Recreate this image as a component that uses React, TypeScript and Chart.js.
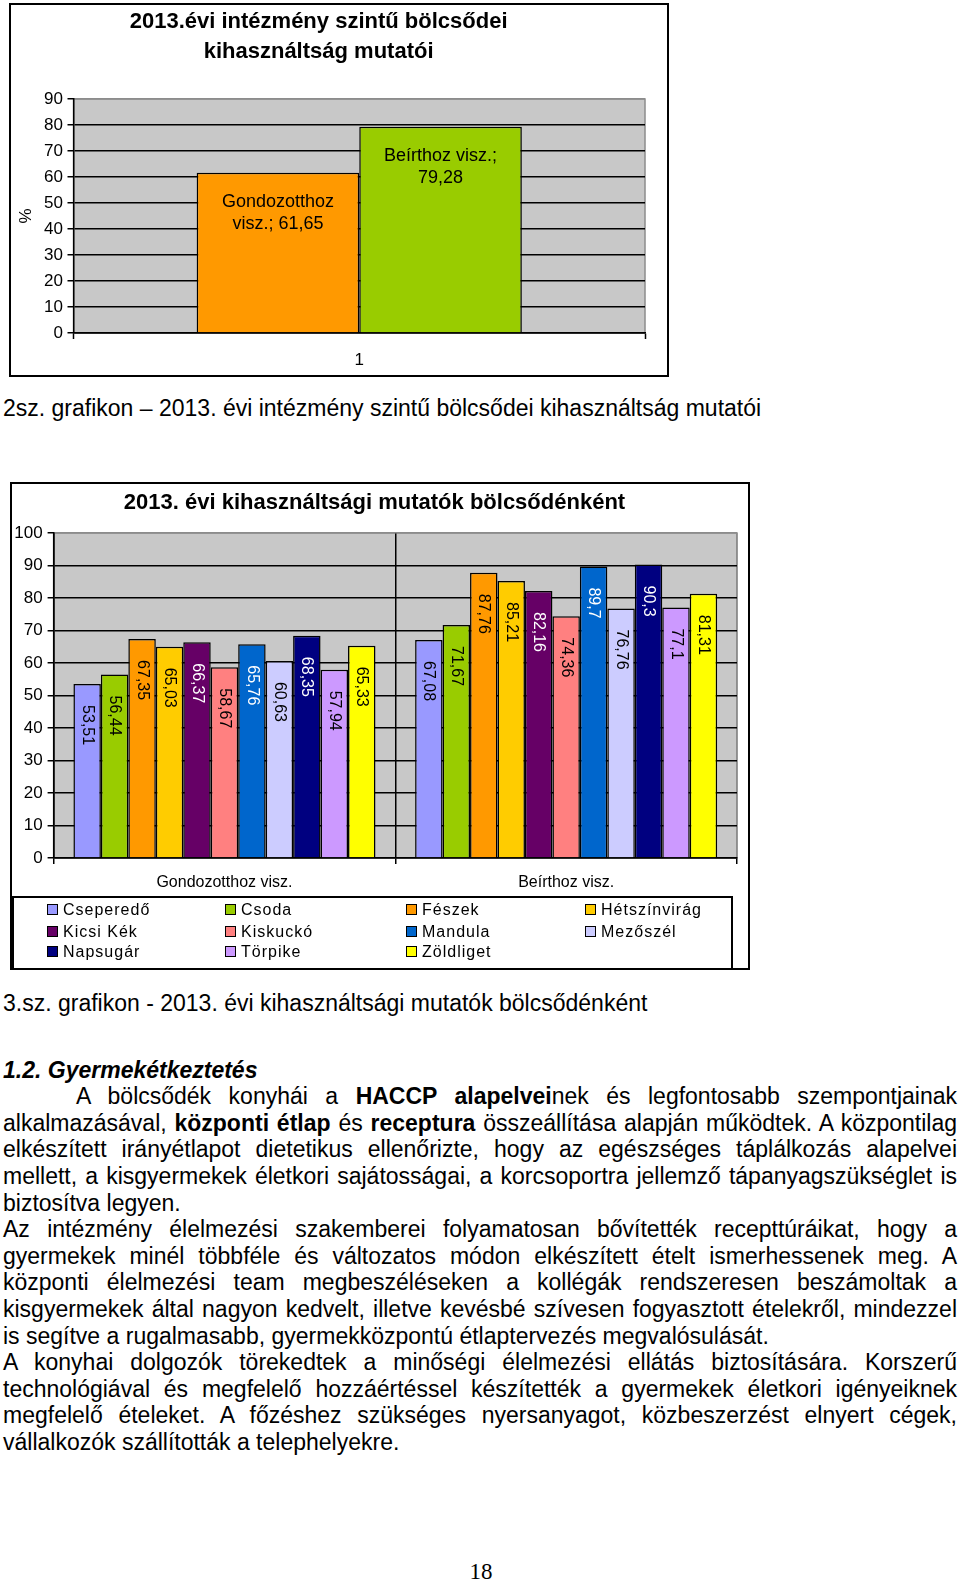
import React, { useEffect, useRef } from 'react';
import { Chart, registerables } from 'chart.js';

Chart.register(...registerables);

const FONT = 'Arial, "Liberation Sans", sans-serif';

// ---- Chart 1 data ----
const chart1TitleLines = ['2013.évi intézmény szintű bölcsődei', 'kihasználtság mutatói'];
const chart1Categories = ['1'];
const chart1Series = ['Gondozotthoz visz.', 'Beírthoz visz.'];
const chart1Values = [61.65, 79.28];
const chart1Colors = ['#FF9900', '#99CC00'];
const chart1YMax = 90;
const chart1AxisTitle = '%';

// ---- Chart 2 data ----
const chart2Title = '2013. évi kihasználtsági mutatók bölcsődénként';
const chart2Categories = ['Gondozotthoz visz.', 'Beírthoz visz.'];
const nurseries = ['Cseperedő', 'Csoda', 'Fészek', 'Hétszínvirág', 'Kicsi Kék', 'Kiskuckó', 'Mandula', 'Mezőszél', 'Napsugár', 'Törpike', 'Zöldliget'];
const gondozotthozValues = [53.51, 56.44, 67.35, 65.03, 66.37, 58.67, 65.76, 60.63, 68.35, 57.94, 65.33];
const beirthozValues = [67.08, 71.67, 87.76, 85.21, 82.16, 74.36, 89.7, 76.76, 90.3, 77.1, 81.31];
const nurseryColors = ['#9999FF', '#99CC00', '#FF9900', '#FFCC00', '#660066', '#FF8080', '#0066CC', '#CCCCFF', '#000080', '#CC99FF', '#FFFF00'];
const darkColors = ['#660066', '#0066CC', '#000080'];
const chart2YMax = 100;

const fmt = (v: number) => String(v).replace('.', ',');

const PLOT_BG = '#C8C8C8';
const PLOT_EDGE = '#8C8C8C';

const plotBg = {
  id: 'plotBg',
  beforeDraw(chart: any) {
    const { ctx, chartArea: a } = chart;
    ctx.save();
    ctx.fillStyle = PLOT_BG;
    ctx.fillRect(a.left, a.top, a.right - a.left, a.bottom - a.top);
    ctx.strokeStyle = PLOT_EDGE;
    ctx.lineWidth = 1.5;
    ctx.strokeRect(a.left, a.top, a.right - a.left, a.bottom - a.top);
    ctx.restore();
  },
};

function wrapText(ctx: CanvasRenderingContext2D, text: string, maxW: number) {
  const words = text.split(' ');
  const lines: string[] = [];
  let cur = '';
  for (const w of words) {
    const t = cur ? cur + ' ' + w : w;
    if (cur && ctx.measureText(t).width > maxW) {
      lines.push(cur);
      cur = w;
    } else cur = t;
  }
  if (cur) lines.push(cur);
  return lines;
}

const chart1Extras = {
  id: 'chart1Extras',
  afterDraw(chart: any) {
    const { ctx } = chart;
    ctx.save();
    ctx.fillStyle = '#000';
    ctx.textAlign = 'center';
    ctx.textBaseline = 'middle';
    ctx.font = 'bold 22px ' + FONT;
    ctx.fillText(chart1TitleLines[0], 307.6, 17);
    ctx.fillText(chart1TitleLines[1], 307.6, 47);
    ctx.font = '18px ' + FONT;
    chart.data.datasets.forEach((ds: any, i: number) => {
      const meta = chart.getDatasetMeta(i);
      meta.data.forEach((bar: any, j: number) => {
        const text = ds.label + '; ' + fmt(ds.data[j]);
        const lines = wrapText(ctx, text, bar.width * 0.86);
        lines.forEach((ln, k) => ctx.fillText(ln, bar.x, bar.y + 29 + k * 22));
      });
    });
    ctx.restore();
  },
};

const chart2Extras = {
  id: 'chart2Extras',
  afterDatasetsDraw(chart: any) {
    const { ctx } = chart;
    ctx.save();
    ctx.font = '16px ' + FONT;
    ctx.textAlign = 'left';
    ctx.textBaseline = 'middle';
    chart.data.datasets.forEach((ds: any, i: number) => {
      const meta = chart.getDatasetMeta(i);
      meta.data.forEach((bar: any, j: number) => {
        ctx.save();
        ctx.translate(bar.x, bar.y + 21);
        ctx.rotate(Math.PI / 2);
        ctx.fillStyle = darkColors.includes(ds.backgroundColor) ? '#FFFFFF' : '#000000';
        ctx.fillText(fmt(ds.data[j]), 0, 0);
        ctx.restore();
      });
    });
    ctx.restore();
  },
  afterDraw(chart: any) {
    const { ctx } = chart;
    ctx.save();
    ctx.strokeStyle = '#000';
    ctx.lineWidth = 2;
    ctx.strokeRect(1, 413, 719, 80);
    const cols = [51, 229, 410, 589];
    const rows = [426, 448, 468];
    ctx.font = '16px ' + FONT;
    ctx.textAlign = 'left';
    ctx.textBaseline = 'middle';
    (ctx as any).letterSpacing = '1px';
    chart.data.datasets.forEach((ds: any, i: number) => {
      const x = cols[i % 4];
      const y = rows[Math.floor(i / 4)];
      ctx.fillStyle = ds.backgroundColor;
      ctx.fillRect(x - 16, y - 6, 11, 11);
      ctx.lineWidth = 1;
      ctx.strokeStyle = '#000';
      ctx.strokeRect(x - 15.5, y - 5.5, 10, 10);
      ctx.fillStyle = '#000';
      ctx.fillText(ds.label, x, y + 1);
    });
    ctx.restore();
  },
};

function Chart1() {
  const ref = useRef<HTMLCanvasElement>(null);
  useEffect(() => {
    const chart = new Chart(ref.current as HTMLCanvasElement, {
      type: 'bar',
      data: {
        labels: chart1Categories,
        datasets: chart1Series.map((s, i) => ({
          label: s,
          data: [chart1Values[i]],
          backgroundColor: chart1Colors[i],
          borderColor: '#000',
          borderWidth: 1.5,
          categoryPercentage: 0.569,
          barPercentage: 1,
        })),
      },
      options: {
        responsive: false,
        animation: false,
        layout: { padding: { top: 94, right: 22, left: 0, bottom: 0 } },
        plugins: { legend: { display: false }, tooltip: { enabled: false }, title: { display: false } },
        scales: {
          x: {
            offset: true,
            grid: { display: true, drawOnChartArea: false, tickLength: 6, tickColor: '#000', tickWidth: 1.5 },
            border: { color: '#000', width: 1.5 },
            ticks: { color: '#000', font: { family: FONT, size: 17 }, padding: 10.8 },
            afterFit: (s: any) => { s.height = 42; },
          },
          y: {
            min: 0,
            max: chart1YMax,
            ticks: { stepSize: 10, color: '#000', font: { family: FONT, size: 17 }, padding: 4.5 },
            grid: {
              color: (c: any) => (c.tick && c.tick.value === chart1YMax ? PLOT_EDGE : '#000'),
              lineWidth: 1.5,
              tickLength: 6,
              tickColor: '#000',
            },
            border: { color: '#000', width: 1.5 },
            title: { display: true, text: chart1AxisTitle, color: '#000', font: { family: FONT, size: 17 }, padding: { top: 5, bottom: 0 } },
            afterFit: (s: any) => { s.width = 62.5; },
          },
        },
      } as any,
      plugins: [plotBg, chart1Extras],
    });
    return () => chart.destroy();
  }, []);
  return <canvas ref={ref} width={656} height={370} style={{ position: 'absolute', left: 0, top: 0 }} />;
}

function Chart2() {
  const ref = useRef<HTMLCanvasElement>(null);
  useEffect(() => {
    const chart = new Chart(ref.current as HTMLCanvasElement, {
      type: 'bar',
      data: {
        labels: chart2Categories,
        datasets: nurseries.map((n, i) => ({
          label: n,
          data: [gondozotthozValues[i], beirthozValues[i]],
          backgroundColor: nurseryColors[i],
          borderColor: '#000',
          borderWidth: 1.5,
          categoryPercentage: 0.884,
          barPercentage: 1,
        })),
      },
      options: {
        responsive: false,
        animation: false,
        layout: { padding: { top: 0, right: 11, left: 0, bottom: 0 } },
        plugins: {
          legend: { display: false },
          tooltip: { enabled: false },
          title: {
            display: true,
            text: chart2Title,
            color: '#000',
            font: { family: FONT, size: 22, weight: 'bold' },
            padding: { top: 6, bottom: 16.6 },
          },
        },
        scales: {
          x: {
            offset: true,
            grid: {
              display: true,
              drawOnChartArea: true,
              color: (c: any) => (c.type === 'scale' ? PLOT_EDGE : '#000'),
              lineWidth: 1.5,
              tickLength: 6,
              tickColor: '#000',
              tickWidth: 1.5,
            },
            border: { color: '#000', width: 1.5 },
            ticks: { color: '#000', font: { family: FONT, size: 16 }, padding: 9.4 },
            afterFit: (s: any) => { s.height = 110; },
          },
          y: {
            min: 0,
            max: chart2YMax,
            ticks: { stepSize: 10, color: '#000', font: { family: FONT, size: 17 }, padding: 5 },
            grid: {
              color: (c: any) => (c.tick && c.tick.value === chart2YMax ? PLOT_EDGE : '#000'),
              lineWidth: 1.5,
              tickLength: 6,
              tickColor: '#000',
            },
            border: { color: '#000', width: 1.5 },
            afterFit: (s: any) => { s.width = 41.6; },
          },
        },
      } as any,
      plugins: [plotBg, chart2Extras],
    });
    return () => chart.destroy();
  }, []);
  return <canvas ref={ref} width={736} height={484} style={{ position: 'absolute', left: 0, top: 0 }} />;
}

type Seg = { t: string; b?: boolean };
type Line = { segs: Seg[]; last?: boolean; indent?: boolean };

const bodyLines: Line[] = [
  { indent: true, segs: [{ t: 'A bölcsődék konyhái a ' }, { t: 'HACCP alapelvei', b: true }, { t: 'nek és legfontosabb szempontjainak' }] },
  { segs: [{ t: 'alkalmazásával, ' }, { t: 'központi étlap', b: true }, { t: ' és ' }, { t: 'receptura', b: true }, { t: ' összeállítása alapján működtek. A központilag' }] },
  { segs: [{ t: 'elkészített irányétlapot dietetikus ellenőrizte, hogy az egészséges táplálkozás alapelvei' }] },
  { segs: [{ t: 'mellett, a kisgyermekek életkori sajátosságai, a korcsoportra jellemző tápanyagszükséglet is' }] },
  { last: true, segs: [{ t: 'biztosítva legyen.' }] },
  { segs: [{ t: 'Az intézmény élelmezési szakemberei folyamatosan bővítették recepttúráikat, hogy a' }] },
  { segs: [{ t: 'gyermekek minél többféle és változatos módon elkészített ételt ismerhessenek meg. A' }] },
  { segs: [{ t: 'központi élelmezési team megbeszéléseken a kollégák rendszeresen beszámoltak a' }] },
  { segs: [{ t: 'kisgyermekek által nagyon kedvelt, illetve kevésbé szívesen fogyasztott ételekről, mindezzel' }] },
  { last: true, segs: [{ t: 'is segítve a rugalmasabb, gyermekközpontú étlaptervezés megvalósulását.' }] },
  { segs: [{ t: 'A konyhai dolgozók törekedtek a minőségi élelmezési ellátás biztosítására. Korszerű' }] },
  { segs: [{ t: 'technológiával és megfelelő hozzáértéssel készítették a gyermekek életkori igényeiknek' }] },
  { segs: [{ t: 'megfelelő ételeket. A főzéshez szükséges nyersanyagot, közbeszerzést elnyert cégek,' }] },
  { last: true, segs: [{ t: 'vállalkozók szállították a telephelyekre.' }] },
];

export default function App() {
  const LH = 26.6;
  return (
    <div style={{ position: 'absolute', left: 0, top: 0, width: 960, height: 1581, background: '#fff', color: '#000', fontFamily: FONT, overflow: 'hidden' }}>
      <div style={{ position: 'absolute', left: 9, top: 3, width: 660, height: 374, border: '2px solid #000', boxSizing: 'border-box' }}>
        <Chart1 />
      </div>
      <div style={{ position: 'absolute', left: 3, top: 408 - LH / 2, fontSize: 23, lineHeight: LH + 'px', whiteSpace: 'nowrap' }}>
        2sz. grafikon – 2013. évi intézmény szintű bölcsődei kihasználtság mutatói
      </div>
      <div style={{ position: 'absolute', left: 10, top: 482, width: 740, height: 488, border: '2px solid #000', boxSizing: 'border-box' }}>
        <Chart2 />
      </div>
      <div style={{ position: 'absolute', left: 3, top: 1003 - LH / 2, fontSize: 23, lineHeight: LH + 'px', whiteSpace: 'nowrap' }}>
        3.sz. grafikon - 2013. évi kihasználtsági mutatók bölcsődénként
      </div>
      <div style={{ position: 'absolute', left: 3, top: 1070 - LH / 2, width: 954, fontSize: 23, lineHeight: LH + 'px' }}>
        <div style={{ fontWeight: 'bold', fontStyle: 'italic', height: LH }}>1.2. Gyermekétkeztetés</div>
        {bodyLines.map((ln, i) => (
          <div
            key={i}
            style={{
              height: LH,
              textAlign: 'justify',
              textAlignLast: ln.last ? 'left' : 'justify',
              textIndent: ln.indent ? 73 : 0,
            } as any}
          >
            {ln.segs.map((s, k) => (s.b ? <b key={k}>{s.t}</b> : <span key={k}>{s.t}</span>))}
          </div>
        ))}
      </div>
      <div style={{ position: 'absolute', left: 0, top: 1572 - 13, width: 962, textAlign: 'center', fontFamily: '"Times New Roman", "Liberation Serif", serif', fontSize: 23, lineHeight: '26px' }}>
        18
      </div>
    </div>
  );
}
